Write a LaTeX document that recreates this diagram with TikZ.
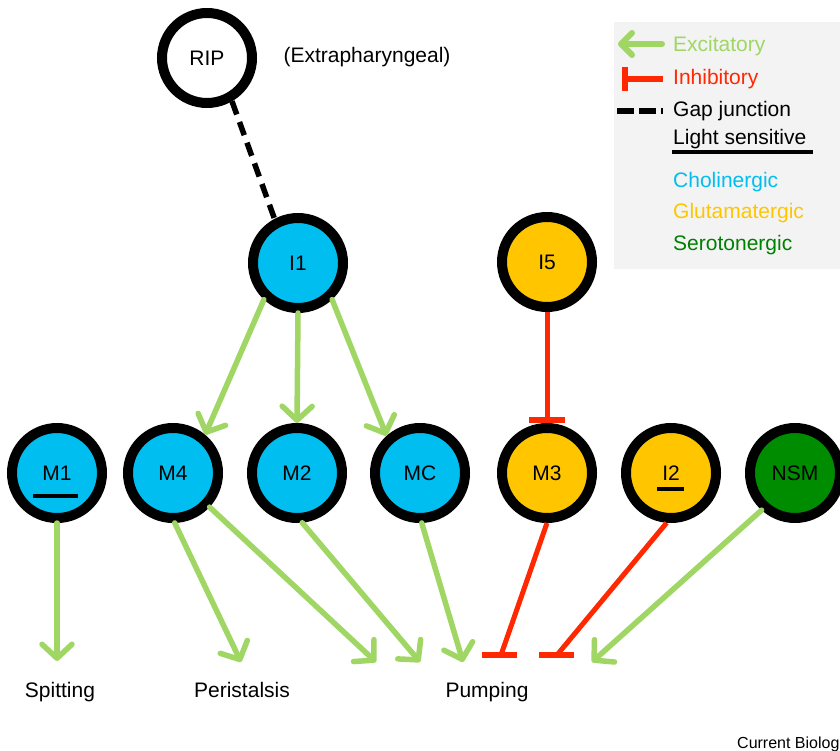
\documentclass[tikz,border=0pt]{standalone}
\usepackage{fontspec}
\setmainfont{Liberation Sans}
\usetikzlibrary{arrows.meta,calc}
\definecolor{exgreen}{RGB}{160,214,100}
\definecolor{inhred}{RGB}{255,40,0}
\definecolor{cholin}{RGB}{0,190,240}
\definecolor{glut}{RGB}{255,198,0}
\definecolor{sero}{RGB}{0,140,0}
\definecolor{serotext}{RGB}{0,128,0}
\definecolor{legbg}{RGB}{243,243,243}
\begin{document}
\begin{tikzpicture}[x=1pt,y=-1pt,
 neuron/.style={circle,draw=black,line width=10pt,minimum size=90pt,inner sep=0pt,font=\fontsize{21}{25}\selectfont},
 exc/.style={draw=exgreen,line width=5.5pt,line cap=round,-{Straight Barb[length=14pt,width=30pt,round]}},
 inh/.style={draw=inhred,line width=5pt,-{Bar[width=36pt,line width=6pt]}},
 inhline/.style={draw=inhred,line width=5pt},
 inhbar/.style={draw=inhred,line width=6pt},
 gapj/.style={draw=black,line width=5.5pt,dash pattern=on 14pt off 8pt},
 lbl/.style={font=\fontsize{21}{25}\selectfont},
 ulines/.style={draw=black,line width=4pt},
 ]
\useasboundingbox (0,0) rectangle (840,751);
\fill[white] (0,0) rectangle (840,751);

% legend
\fill[legbg] (614,22) rectangle (840,269);
\coordinate (exA) at (662,44); \coordinate (exB) at (618,44);
\draw[draw=exgreen,line width=6pt,line cap=round,-{Straight Barb[length=11pt,width=22pt,round]}] (exA) -- (exB);
\coordinate (inA) at (663,79); \coordinate (inB) at (622,79);
\draw[draw=inhred,line width=6pt,-{Bar[width=24pt,line width=6pt]}] (inA) -- (inB);
\coordinate (gpA) at (617,111); \coordinate (gpB) at (663,111);
\draw[draw=black,line width=5.5pt,dash pattern=on 17pt off 5pt] (gpA) -- (gpB);
\node[lbl,text=exgreen,anchor=base west,inner sep=0pt] (lex) at (673,52) {Excitatory};
\node[lbl,text=inhred,anchor=base west,inner sep=0pt] (lin) at (673,85) {Inhibitory};
\node[lbl,anchor=base west,inner sep=0pt] (lgp) at (673,117) {Gap junction};
\node[lbl,anchor=base west,inner sep=0pt] (lls) at (673,145) {Light sensitive};
\coordinate (lsA) at (672,152); \coordinate (lsB) at (813,152);
\draw[ulines] (lsA) -- (lsB);
\node[lbl,text=cholin,anchor=base west,inner sep=0pt] (lch) at (673,188) {Cholinergic};
\node[lbl,text=glut,anchor=base west,inner sep=0pt] (lgl) at (673,219) {Glutamatergic};
\node[lbl,text=serotext,anchor=base west,inner sep=0pt] (lse) at (673,251) {Serotonergic};

% neurons
\node[neuron,fill=white] (RIP) at (207,58) {RIP};
\node[lbl,anchor=base,inner sep=0pt] (extra) at (367,63) {(Extrapharyngeal)};
\node[neuron,fill=cholin] (I1) at (298,263) {I1};
\node[neuron,fill=glut] (I5) at (547,262) {I5};
\node[neuron,fill=cholin] (M1) at (57,473) {M1};
\node[neuron,fill=cholin] (M4) at (173,473) {M4};
\node[neuron,fill=cholin] (M2) at (297,473) {M2};
\node[neuron,fill=cholin] (MC) at (420,473) {MC};
\node[neuron,fill=glut] (M3) at (547,473) {M3};
\node[neuron,fill=glut] (I2) at (671,473) {I2};
\node[neuron,fill=sero] (NSM) at (795,473) {NSM};

% light-sensitive underlines
\draw[ulines] ($(M1.center)+(-24,23)$) -- ($(M1.center)+(21,23)$);
\draw[ulines] ($(I2.center)+(-14,16)$) -- ($(I2.center)+(13,16)$);

% gap junction
\draw[gapj] (RIP.300) -- (I1.118);

% I1 outputs
\draw[exc] (I1.227) -- (M4.50);
\draw[exc] (I1.south) -- (M2.north);
\draw[exc] (I1.313) -- (MC.132);

% I5 -| M3
\draw[inh] (I5.south) -- (M3.north);

% outputs
\node[lbl,anchor=base,inner sep=0pt] (spit) at (60,697) {Spitting};
\node[lbl,anchor=base,inner sep=0pt] (peri) at (242,697) {Peristalsis};
\node[lbl,anchor=base,inner sep=0pt] (pump) at (487,697) {Pumping};

\coordinate (tSpit) at (57,661);
\coordinate (tPeri) at (241,662);
\coordinate (tP1) at (376,662);
\coordinate (tP2) at (420,662);
\coordinate (tP3) at (463,662);
\coordinate (tP4) at (501,655);
\coordinate (tP5) at (557,655);
\coordinate (tP6) at (592,662);

\draw[exc] (M1.south) -- (tSpit);
\draw[exc] (M4.272) -- (tPeri);
\draw[exc] (M4.317) -- (tP1);
\draw[exc] (M2.276) -- (tP2);
\draw[exc] (MC.272) -- (tP3);
\draw[inhline] (M3.270) -- (tP4);
\draw[inhbar] ($(tP4)+(-19,0)$) -- ($(tP4)+(16,0)$);
\draw[inhline] (I2.265) -- (tP5);
\draw[inhbar] ($(tP5)+(-18,0)$) -- ($(tP5)+(17,0)$);
\draw[exc] (NSM.228) -- (tP6);

% credit (cut at the right edge as in the reference)
\node[anchor=base west,inner sep=0pt,font=\fontsize{16}{19}\selectfont] (credit) at (737,748) {Current Biolog};
\end{tikzpicture}
\end{document}
